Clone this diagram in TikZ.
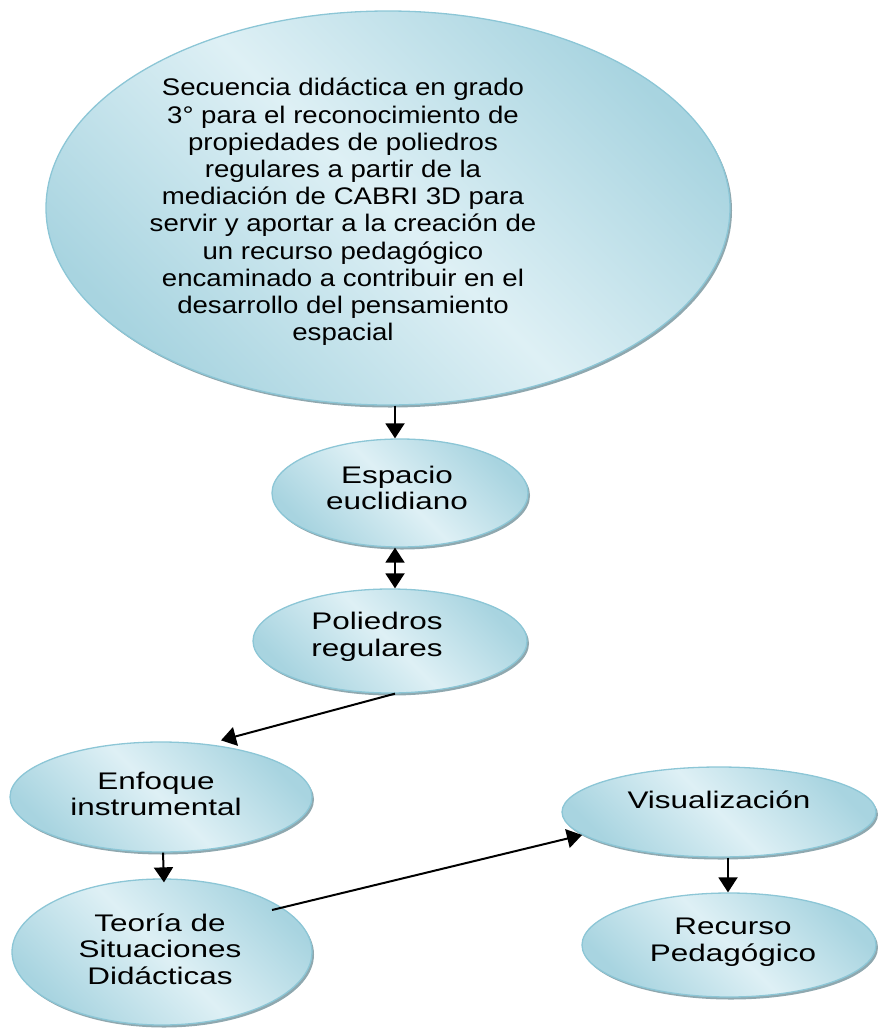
\documentclass[tikz,border=0pt]{standalone}
\usepackage{fontspec}
\setmainfont{Liberation Sans}
\newfontfamily\bigfont[FakeStretch=1.15]{Liberation Sans}
\newfontfamily\smallfont[FakeStretch=1.31]{Liberation Sans}
\usetikzlibrary{shapes.geometric,arrows.meta,shadows}

\definecolor{elldark}{HTML}{A8D4E0}
\definecolor{elllight}{HTML}{DEF0F5}
\definecolor{ellline}{HTML}{8CC6D6}
\definecolor{ellshadow}{HTML}{8FA8AF}

\tikzset{
  ell/.style={ellipse, draw=ellline, line width=1.3pt, inner sep=0pt,
    top color=elldark, bottom color=elldark, middle color=elllight,
    shading angle=-45,
    drop shadow={shadow xshift=2pt, shadow yshift=-2.5pt, fill=ellshadow, opacity=1}},
  bigtxt/.style={align=center, inner sep=0pt, font=\bigfont\fontsize{24}{27.2}\selectfont},
  smalltxt/.style={align=center, inner sep=0pt, font=\smallfont\fontsize{24}{26.5}\selectfont},
  conn/.style={line width=2pt, -{Triangle[length=15pt,width=19pt]}},
  dconn/.style={line width=2pt, {Triangle[length=15pt,width=19pt]}-{Triangle[length=15pt,width=19pt]}}
}

\begin{document}
\begin{tikzpicture}[x=1pt,y=-1pt]
\useasboundingbox (0,0) rectangle (878,1031);

% ellipses
\node[ell, minimum width=684pt, minimum height=394pt] (seq) at (388,208) {};
\node[ell, minimum width=256pt, minimum height=108pt] (esp) at (400,493) {};
\node[ell, minimum width=274pt, minimum height=104pt] (pol) at (390,641) {};
\node[ell, minimum width=302pt, minimum height=110pt] (enf) at (161,797) {};
\node[ell, minimum width=300pt, minimum height=146pt] (teo) at (162,952) {};
\node[ell, minimum width=314pt, minimum height=90pt]  (vis) at (719,812) {};
\node[ell, minimum width=294pt, minimum height=104pt] (rec) at (729,945) {};

% texts
\node[bigtxt] (seqtxt) at (343,212) {Secuencia didáctica en grado\\
3° para el reconocimiento de\\
propiedades de poliedros\\
regulares a partir de la\\
mediación de CABRI 3D para\\
servir y aportar a la creación de\\
un recurso pedagógico\\
encaminado a contribuir en el\\
desarrollo del pensamiento\\
espacial};
\node[smalltxt] (esptxt) at (397,488) {Espacio\\euclidiano};
\node[smalltxt] (poltxt) at (377,637) {Poliedros\\regulares};
\node[smalltxt] (enftxt) at (156,794) {Enfoque\\instrumental};
\node[smalltxt] (teotxt) at (160,949) {Teoría de\\Situaciones\\Didácticas};
\node[smalltxt] (vistxt) at (719,800) {Visualización};
\node[smalltxt] (rectxt) at (733,942) {Recurso\\Pedagógico};

% connectors
\draw[conn]  ([xshift=7pt]seq.south) -- ([xshift=-5pt]esp.north);
\draw[dconn] ([xshift=-5pt]esp.south) -- ([xshift=5pt]pol.north);
\draw[conn]  ([xshift=5pt]pol.south) -- ([xshift=60pt,yshift=1pt]enf.north);
\draw[conn]  ([xshift=2pt]enf.south) -- ([xshift=2pt,yshift=-4pt]teo.north);
\draw[conn]  ([xshift=110pt,yshift=42pt]teo.center) -- ([xshift=-137pt,yshift=-23pt]vis.center);
\draw[conn]  ([xshift=9pt]vis.south) -- ([xshift=-1pt]rec.north);
\end{tikzpicture}
\end{document}
